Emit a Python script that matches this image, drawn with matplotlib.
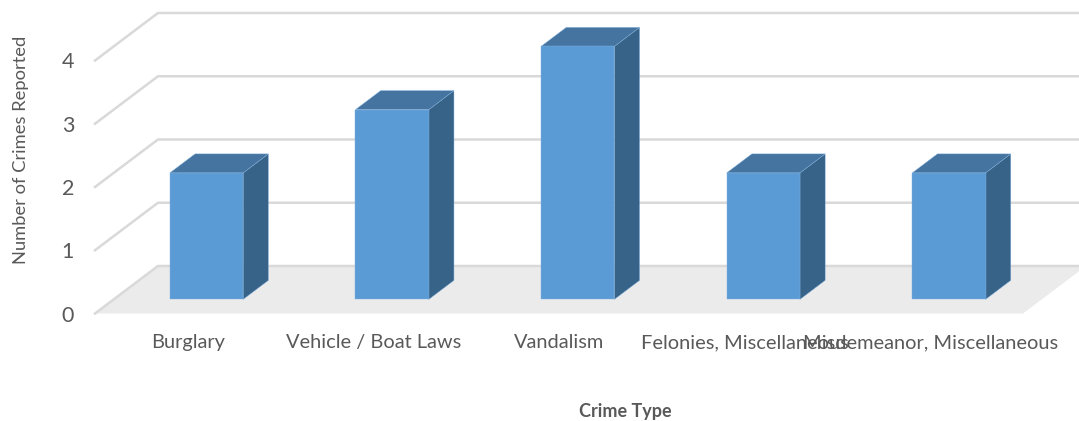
#!/usr/bin/env python
"""Barras falsas-3D (projecao obliqua) do numero de crimes por tipo."""
import matplotlib

matplotlib.use("Agg")
import matplotlib.pyplot as plt
from matplotlib.patches import Polygon

plt.rcParams["font.family"] = ["Lato", "DejaVu Sans"]

CATEGORIES = ["Burglary", "Vehicle / Boat Laws", "Vandalism",
              "Felonies, Miscellaneous", "Misdemeanor, Miscellaneous"]
COUNTS = [2, 3, 4, 2, 2]
Y_TICKS = [0, 1, 2, 3, 4]

W, H = 1079, 421

# profundidade total do piso, em unidades de dados (categoria, valor)
DEPTH_X = 0.3394
DEPTH_Y = 0.751
BAR_W = 0.395
BAR_D0, BAR_D1 = 0.297, 0.697  # fracao da profundidade ocupada pela barra

C_FRONT = "#5b9bd5"
C_TOP = "#44749f"
C_SIDE = "#386389"
C_GRID = "#d9d9d9"
C_FLOOR = "#ebebeb"
C_TEXT = "#595959"


def proj(x, y, d):
    """Ponto (x, y) na fracao d da profundidade."""
    return x + DEPTH_X * d, y + DEPTH_Y * d


def draw_bar(ax, i, val):
    x0, x1 = i - BAR_W / 2, i + BAR_W / 2
    front = [proj(x0, 0, BAR_D0), proj(x1, 0, BAR_D0), proj(x1, val, BAR_D0), proj(x0, val, BAR_D0)]
    side = [proj(x1, 0, BAR_D0), proj(x1, 0, BAR_D1), proj(x1, val, BAR_D1), proj(x1, val, BAR_D0)]
    top = [proj(x0, val, BAR_D0), proj(x1, val, BAR_D0), proj(x1, val, BAR_D1), proj(x0, val, BAR_D1)]
    for pts, col in ((side, C_SIDE), (top, C_TOP), (front, C_FRONT)):
        ax.add_patch(Polygon(pts, closed=True, facecolor=col, edgecolor="#7fb0de", lw=0.3,
                             clip_on=False, zorder=3))


fig = plt.figure(figsize=(W / 100, H / 100), dpi=100, facecolor="white")
ax = fig.add_axes([95 / W, (H - 313.5) / H, (1023 - 95) / W, (313.5 - 60.5) / H])
ax.set_xlim(-0.5, 4.5)
ax.set_ylim(0, 4)
ax.patch.set_visible(False)
for sp in ax.spines.values():
    sp.set_visible(False)

# piso
x_l, x_r = -0.5, 4.5
ax.add_patch(Polygon([proj(x_l, 0, 0), proj(x_r, 0, 0), proj(x_r, 0, 1), proj(x_l, 0, 1)],
                     closed=True, facecolor=C_FLOOR, edgecolor="none", clip_on=False, zorder=1))

# grade: parede lateral + parede do fundo
for v in Y_TICKS:
    xs, ys = zip(proj(x_l, v, 0), proj(x_l, v, 1), proj(x_r, v, 1))
    ax.plot(xs, ys, color=C_GRID, lw=1.8, clip_on=False, zorder=2, solid_joinstyle="miter")

for i, val in enumerate(COUNTS):
    draw_bar(ax, i, val)

ax.set_xticks(range(len(CATEGORIES)))
ax.set_xticklabels(CATEGORIES)
ax.set_yticks(Y_TICKS)
ax.tick_params(axis="x", length=0, pad=15, labelsize=14.4, labelcolor=C_TEXT)
ax.tick_params(axis="y", length=0, pad=15, labelsize=15.5, labelcolor=C_TEXT)

fig.text(21.5 / W, 1 - 150 / H, "Number of Crimes Reported", rotation=90, fontsize=13.2,
         color=C_TEXT, ha="center", va="center")
fig.text(625.5 / W, 1 - 411 / H, "Crime Type", fontsize=13, fontweight="bold",
         color=C_TEXT, ha="center", va="center")

fig.savefig("out.png", dpi=100, facecolor="white")
